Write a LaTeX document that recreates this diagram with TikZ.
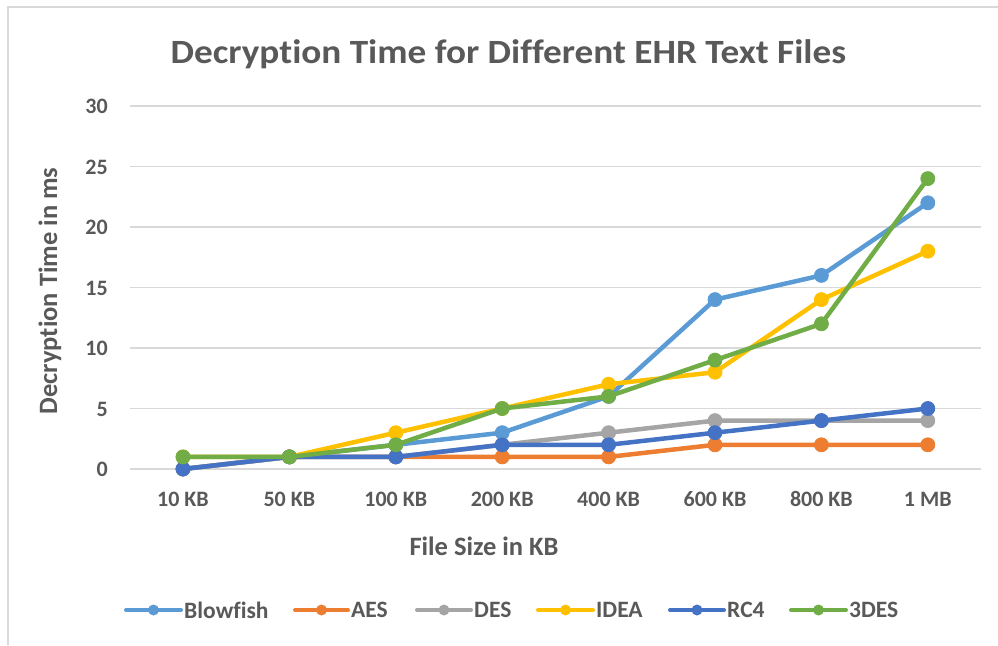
\documentclass[tikz,border=0pt]{standalone}
\usepackage{fontspec}
\setmainfont{Carlito}[Ligatures=NoCommon]
\usetikzlibrary{positioning,calc}
\definecolor{txtgrey}{HTML}{595959}
\definecolor{gridgrey}{HTML}{D9D9D9}
\definecolor{cblowfish}{HTML}{5B9BD5}
\definecolor{caes}{HTML}{ED7D31}
\definecolor{cdes}{HTML}{A5A5A5}
\definecolor{cidea}{HTML}{FFC000}
\definecolor{crc}{HTML}{4472C4}
\definecolor{ctdes}{HTML}{70AD47}

\begin{document}
\begin{tikzpicture}[x=1pt,y=-1pt,
            lbl/.style={font=\bfseries\fontsize{22}{24}\selectfont, text=txtgrey, inner sep=0pt},
            axtitle/.style={lbl, font=\bfseries\fontsize{26.5}{28}\selectfont},
            keytext/.style={lbl, font=\bfseries\fontsize{23.5}{26}\selectfont},
            grid line/.style={draw=gridgrey, line width=1.2pt},
            series/.style={line width=4.5pt, line join=round, line cap=round,
                mark=*, mark size=7pt, mark options={line width=0.8pt}}]
            \useasboundingbox (0,0) rectangle (998,645);
            \draw[gridgrey, line width=2pt] (8,645) -- (8,7) -- (998,7);
            \node[lbl, font=\bfseries\fontsize{34}{38}\selectfont, anchor=base, xscale=1.095] (title) at (508.5,63)
                {Decryption Time for Different EHR Text Files};
            \node[axtitle, rotate=90, anchor=base] (ytitle) at (57,291) {Decryption Time in ms};
            \node[axtitle, anchor=base] (xtitle) at (484,555) {File Size in KB};
            \begin{scope}[shift={(183,469)}, x=106.4pt, y=12.1pt]
                \foreach \v in {0,5,...,30} {
                    \draw[grid line] (-0.5,\v) -- (7.5,\v);
                    \node[lbl, anchor=base east, yshift=-7.5pt] (y\v) at (-0.705,\v) {\v};
                }
                \foreach \lab [count=\i from 0] in {10 KB,50 KB,100 KB,200 KB,400 KB,600 KB,800 KB,1 MB}
                    \node[lbl, anchor=base, yshift=-37pt] (x\i) at (\i,0) {\lab};
                \draw[series, cblowfish] plot coordinates {(0,0) (1,1) (2,2) (3,3) (4,6) (5,14) (6,16) (7,22)};
                \draw[series, caes] plot coordinates {(0,0) (1,1) (2,1) (3,1) (4,1) (5,2) (6,2) (7,2)};
                \draw[series, cdes] plot coordinates {(0,0) (1,1) (2,1) (3,2) (4,3) (5,4) (6,4) (7,4)};
                \draw[series, cidea] plot coordinates {(0,1) (1,1) (2,3) (3,5) (4,7) (5,8) (6,14) (7,18)};
                \draw[series, crc] plot coordinates {(0,0) (1,1) (2,1) (3,2) (4,2) (5,3) (6,4) (7,5)};
                \draw[series, ctdes] plot coordinates {(0,1) (1,1) (2,2) (3,5) (4,6) (5,9) (6,12) (7,24)};
            \end{scope}
            \foreach \name/\col/\xa/\xb in {Blowfish/cblowfish/126/181, AES/caes/295/348, DES/cdes/417/471,
                    IDEA/cidea/538/593, RC4/crc/670/724, 3DES/ctdes/791/846} {
                \coordinate (ks-\name) at (\xa,610);
                \coordinate (ke-\name) at (\xb,610);
                \draw[\col, line width=4pt, line cap=round] (ks-\name) -- (ke-\name);
                \fill[\col] ($(ks-\name)!0.5!(ke-\name)$) circle (5.5pt);
                \node[keytext, right=3pt of ke-\name] (key-\name) {\name};
            }
        \end{tikzpicture}
\end{document}
